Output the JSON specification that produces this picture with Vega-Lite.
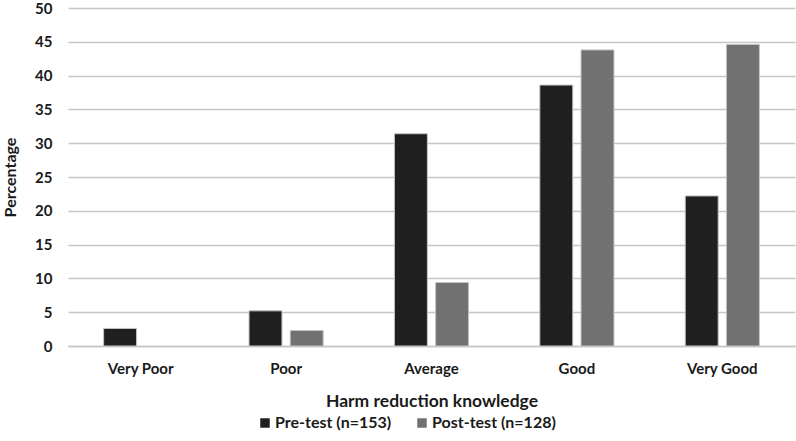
{
  "$schema": "https://vega.github.io/schema/vega-lite/v6.json",
  "autosize": {"type": "none"},
  "padding": {"left": 68, "top": 8, "right": 1, "bottom": 95},
  "width": 727,
  "height": 338,
  "background": "white",
  "config": {"view": {"stroke": null}, "font": "Lato"},
  "data": {
    "values": [
      {"category": "Very Poor", "group": "Pre-test (n=153)", "value": 2.6},
      {"category": "Very Poor", "group": "Post-test (n=128)", "value": 0},
      {"category": "Poor", "group": "Pre-test (n=153)", "value": 5.2},
      {"category": "Poor", "group": "Post-test (n=128)", "value": 2.3},
      {"category": "Average", "group": "Pre-test (n=153)", "value": 31.4},
      {"category": "Average", "group": "Post-test (n=128)", "value": 9.4},
      {"category": "Good", "group": "Pre-test (n=153)", "value": 38.6},
      {"category": "Good", "group": "Post-test (n=128)", "value": 43.8},
      {"category": "Very Good", "group": "Pre-test (n=153)", "value": 22.2},
      {"category": "Very Good", "group": "Post-test (n=128)", "value": 44.6}
    ]
  },
  "mark": {"type": "bar", "stroke": "#c4c4c4"},
  "encoding": {
    "x": {
      "field": "category",
      "type": "nominal",
      "sort": ["Very Poor", "Poor", "Average", "Good", "Very Good"],
      "scale": {"paddingInner": 0.49, "paddingOuter": 0.245},
      "axis": {
        "title": "Harm reduction knowledge",
        "titleFont": "Lato",
        "titleFontSize": 17.5,
        "titleFontWeight": "bold",
        "titleColor": "#1a1a1a",
        "titlePadding": 16,
        "labelAngle": 0,
        "labelFont": "Lato",
        "labelFontSize": 15,
        "labelFontWeight": "bold",
        "labelColor": "#1a1a1a",
        "labelPadding": 15,
        "ticks": false,
        "domainColor": "#c6c6c6",
        "domainWidth": 1.5
      }
    },
    "xOffset": {
      "field": "group",
      "type": "nominal",
      "sort": ["Pre-test (n=153)", "Post-test (n=128)"],
      "scale": {"paddingInner": 0.2, "paddingOuter": 0}
    },
    "y": {
      "field": "value",
      "type": "quantitative",
      "scale": {"domain": [0, 50]},
      "axis": {
        "title": "Percentage",
        "titleFont": "Lato",
        "titleFontSize": 16,
        "titleFontWeight": "bold",
        "titleColor": "#1a1a1a",
        "titleX": -58,
        "titleY": 169,
        "titleAngle": -90,
        "titleAlign": "center",
        "titleBaseline": "middle",
        "values": [0, 5, 10, 15, 20, 25, 30, 35, 40, 45, 50],
        "labelFont": "Lato",
        "labelFontSize": 15,
        "labelFontWeight": "bold",
        "labelColor": "#1a1a1a",
        "labelPadding": 16,
        "ticks": false,
        "domain": false,
        "gridColor": "#c6c6c6",
        "gridWidth": 1.5
      }
    },
    "strokeWidth": {
      "condition": {"test": "datum.value > 0", "value": 1},
      "value": 0
    },
    "color": {
      "field": "group",
      "type": "nominal",
      "sort": ["Pre-test (n=153)", "Post-test (n=128)"],
      "scale": {"domain": ["Pre-test (n=153)", "Post-test (n=128)"], "range": ["#1f1f1f", "#717171"]},
      "legend": {
        "title": null,
        "orient": "none",
        "legendX": 189,
        "legendY": 407,
        "direction": "horizontal",
        "symbolType": "square",
        "symbolSize": 90,
        "symbolStrokeWidth": 0,
        "labelFont": "Lato",
        "labelFontSize": 16,
        "labelFontWeight": "bold",
        "labelColor": "#1a1a1a",
        "labelOffset": 2,
        "columnPadding": 22
      }
    }
  }
}
